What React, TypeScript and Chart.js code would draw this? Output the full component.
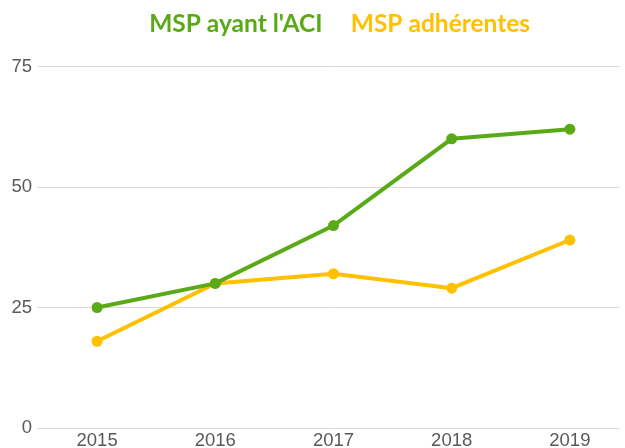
import React, { useEffect, useRef } from "react";
import { Chart, registerables } from "chart.js";

Chart.register(...registerables);

const years = [2015, 2016, 2017, 2018, 2019];
const aciValues = [25, 30, 42, 60, 62];
const adherentValues = [18, 30, 32, 29, 39];
const yTickValues = [0, 25, 50, 75];
const seriesNames = ["MSP ayant l'ACI", "MSP adhérentes"];
const seriesColors = ["#5aaa18", "#ffc000"];

export default function App() {
  const ref = useRef<HTMLCanvasElement | null>(null);

  useEffect(() => {
    if (!ref.current) return;
    const legendTweak = {
      id: "legendTweak",
      beforeInit(chart: any) {
        const lg = chart.legend;
        if (!lg) return;
        const origFit = lg.fit;
        lg.fit = function () {
          origFit.bind(lg)();
          this.height += 20;
        };
      },
      afterLayout(chart: any) {
        const lg = chart.legend;
        if (!lg) return;
        lg.left += 19;
        lg.right += 19;
      },
    };
    const chart = new Chart(ref.current, {
      type: "line",
      data: {
        datasets: [aciValues, adherentValues].map((vals, i) => ({
          label: seriesNames[i],
          data: years.map((x, j) => ({ x, y: vals[j] })),
          borderColor: seriesColors[i],
          backgroundColor: seriesColors[i],
          borderWidth: 4,
          pointRadius: 5.5,
          pointBorderWidth: 0,
          pointBackgroundColor: seriesColors[i],
          tension: 0,
        })),
      },
      options: {
        animation: false,
        responsive: false,
        maintainAspectRatio: false,
        devicePixelRatio: 1,
        layout: { padding: 0 },
        plugins: {
          tooltip: { enabled: false },
          legend: {
            display: true,
            position: "top",
            labels: {
              boxWidth: 4,
              boxHeight: 0,
              padding: 12,
              font: { family: "Lato", size: 24.5, weight: "bold" },
              generateLabels: () =>
                seriesNames.map((t, i) => ({
                  text: t,
                  fontColor: seriesColors[i],
                  fillStyle: "rgba(0,0,0,0)",
                  strokeStyle: "rgba(0,0,0,0)",
                  lineWidth: 0,
                  hidden: false,
                  datasetIndex: i,
                })),
            },
          },
        },
        scales: {
          x: {
            type: "linear",
            min: 2014.5,
            max: 2019.42,
            grid: { display: false, drawTicks: false },
            border: { display: false },
            afterBuildTicks: (s: any) => {
              s.ticks = years.map((v) => ({ value: v }));
            },
            afterFit: (s: any) => {
              s.height = 20;
              s.paddingLeft = 0;
              s.paddingRight = 0;
            },
            ticks: {
              padding: 2,
              color: "#595959",
              font: { family: "Liberation Sans", size: 18.5 },
              callback: (v: any) => String(v),
              maxRotation: 0,
            },
          },
          y: {
            min: 0,
            max: 75,
            grid: { color: "#d9d9d9", lineWidth: 1, drawTicks: false },
            border: { display: false },
            afterBuildTicks: (s: any) => {
              s.ticks = yTickValues.map((v) => ({ value: v }));
            },
            afterFit: (s: any) => {
              s.width = 38;
            },
            ticks: {
              padding: 6,
              color: "#595959",
              font: { family: "Liberation Sans", size: 18.5 },
            },
          },
        },
      },
      plugins: [legendTweak],
    });
    return () => chart.destroy();
  }, []);

  return (
    <div style={{ position: "fixed", left: 0, top: 0, width: 625, height: 448, background: "#fff" }}>
      <canvas ref={ref} width={625} height={448} style={{ width: 625, height: 448, display: "block" }} />
    </div>
  );
}
